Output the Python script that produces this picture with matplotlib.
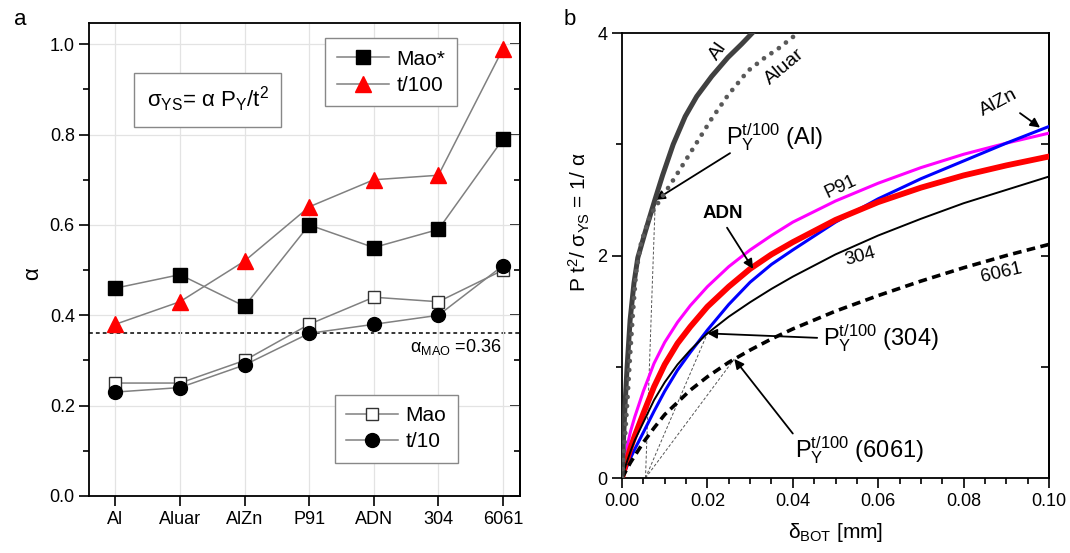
import numpy as np
import matplotlib
matplotlib.use("Agg")
from matplotlib import pyplot as plt
from matplotlib.ticker import MultipleLocator

plt.rcParams['font.family'] = ['Liberation Sans', 'DejaVu Sans']
plt.rcParams['mathtext.fontset'] = 'custom'
plt.rcParams['mathtext.rm'] = 'Liberation Sans'
plt.rcParams['mathtext.it'] = 'Liberation Sans:italic'
plt.rcParams['mathtext.bf'] = 'Liberation Sans:bold'

# ---- panel a data ----
materials = ["Al", "Aluar", "AlZn", "P91", "ADN", "304", "6061"]
alpha_mao_star = [0.46, 0.49, 0.42, 0.60, 0.55, 0.59, 0.79]
alpha_t100 = [0.38, 0.43, 0.52, 0.64, 0.70, 0.71, 0.99]
alpha_mao = [0.25, 0.25, 0.30, 0.38, 0.44, 0.43, 0.50]
alpha_t10 = [0.23, 0.24, 0.29, 0.36, 0.38, 0.40, 0.51]
alpha_mao_ref = 0.36

# ---- panel b data (delta_BOT [mm], P t^2 / sigma_YS) ----
al_x = [0, 0.0003, 0.0007, 0.0012, 0.0019, 0.0028, 0.0037, 0.0055, 0.0077, 0.0095,
        0.0120, 0.0148, 0.0175, 0.0210, 0.0248, 0.0280, 0.0310]
al_y = [0, 0.30, 0.65, 1.00, 1.42, 1.75, 1.98, 2.22, 2.50, 2.72,
        3.00, 3.25, 3.43, 3.61, 3.78, 3.90, 4.02]
aluar_x = [0, 0.0004, 0.0008, 0.0013, 0.0019, 0.0025, 0.0033, 0.0045, 0.0065, 0.0089,
           0.0112, 0.0140, 0.0171, 0.0210, 0.0248, 0.0295, 0.0335, 0.0366, 0.0412]
aluar_y = [0, 0.20, 0.42, 0.72, 1.10, 1.45, 1.85, 2.12, 2.35, 2.50,
           2.63, 2.80, 2.99, 3.23, 3.44, 3.66, 3.78, 3.86, 4.00]
dx = [0, 0.001, 0.002, 0.003, 0.005, 0.0075, 0.010, 0.013, 0.016, 0.020,
      0.025, 0.030, 0.035, 0.040, 0.050, 0.060, 0.070, 0.080, 0.090, 0.100]
p91_y = [0, 0.25, 0.42, 0.55, 0.78, 1.03, 1.22, 1.40, 1.55, 1.72,
         1.90, 2.05, 2.18, 2.30, 2.49, 2.65, 2.79, 2.91, 3.01, 3.10]
adn_y = [0, 0.14, 0.27, 0.38, 0.58, 0.82, 1.02, 1.21, 1.36, 1.54,
         1.72, 1.88, 2.01, 2.12, 2.32, 2.48, 2.61, 2.72, 2.81, 2.89]
alzn_y = [0, 0.09, 0.18, 0.26, 0.41, 0.60, 0.78, 0.97, 1.13, 1.33,
          1.56, 1.76, 1.92, 2.05, 2.30, 2.51, 2.69, 2.85, 3.01, 3.16]
s304_y = [0, 0.13, 0.24, 0.34, 0.50, 0.70, 0.86, 1.02, 1.15, 1.30,
          1.45, 1.58, 1.70, 1.81, 2.01, 2.18, 2.33, 2.47, 2.59, 2.71]
a6061_y = [0, 0.07, 0.14, 0.20, 0.32, 0.45, 0.57, 0.68, 0.79, 0.91,
           1.04, 1.15, 1.25, 1.34, 1.50, 1.64, 1.77, 1.89, 2.00, 2.10]

# t/100 offset lines: start on the axis, end at the P_Y point
offset_start = 0.0055
py_al = (0.0078, 2.50)
py_304 = (0.0200, 1.30)
py_6061 = (0.0263, 1.07)

fig = plt.figure(figsize=(10.7, 5.53), dpi=100)
ax1 = fig.add_axes([0.0836, 0.1031, 0.4028, 0.8553])
ax2 = fig.add_axes([0.5813, 0.1356, 0.3991, 0.8047])

# ================= panel a =================
xi = np.arange(len(materials))
ax1.grid(True, color="#e3e3e3", lw=0.9, zorder=0)
ax1.axhline(alpha_mao_ref, color="black", ls=(0, (2.5, 2)), lw=1.1, zorder=1)
line_kw = dict(color="#808080", lw=1.1, zorder=3)
h1, = ax1.plot(xi, alpha_mao_star, marker="s", ms=10, mfc="black", mec="black", label="Mao*", **line_kw)
h2, = ax1.plot(xi, alpha_t100, marker="^", ms=11, mfc="red", mec="red", label="t/100", **line_kw)
h3, = ax1.plot(xi, alpha_mao, marker="s", ms=9, mfc="white", mec="#333333", mew=1.0, label="Mao", **line_kw)
h4, = ax1.plot(xi, alpha_t10, marker="o", ms=10, mfc="black", mec="black", label="t/10", **line_kw)

ax1.set_xlim(-0.4, 6.27)
ax1.set_ylim(0, 1.047)
ax1.set_xticks(xi)
ax1.set_xticklabels(materials, fontsize=13)
ax1.yaxis.set_minor_locator(MultipleLocator(0.1))
ax1.set_yticks([0.0, 0.2, 0.4, 0.6, 0.8, 1.0])
ax1.set_yticklabels(["0.0", "0.2", "0.4", "0.6", "0.8", "1.0"], fontsize=13)
ax1.tick_params(axis="both", which="major", direction="out", length=7, width=1.2, right=False, top=False)
ax1.tick_params(axis="y", which="minor", direction="out", length=4, width=1.2)
ax1.tick_params(axis="x", which="minor", bottom=False)
ax1r = ax1.secondary_yaxis("right")
ax1r.yaxis.set_major_locator(MultipleLocator(0.2))
ax1r.yaxis.set_minor_locator(MultipleLocator(0.1))
ax1r.tick_params(which="major", direction="in", length=7, width=1.2, labelright=False)
ax1r.tick_params(which="minor", direction="in", length=4, width=1.2)
for s in ax1.spines.values():
    s.set_linewidth(1.3)
ax1r.spines["right"].set_linewidth(1.3)
ax1.set_ylabel("α", fontsize=16)
ax1.yaxis.set_label_coords(-0.108, 0.47)

leg_kw = dict(fontsize=15, fancybox=False, edgecolor="#888888", framealpha=1,
              handlelength=2.5, borderpad=0.55, handletextpad=0.35, labelspacing=0.35,
              borderaxespad=0)
leg1 = ax1.legend(handles=[h1, h2], loc="upper right", bbox_to_anchor=(0.852, 0.968), **leg_kw)
leg1.get_frame().set_linewidth(1.0)
ax1.add_artist(leg1)
leg2 = ax1.legend(handles=[h3, h4], loc="lower right", bbox_to_anchor=(0.855, 0.07), **leg_kw)
leg2.get_frame().set_linewidth(1.0)

ax1.text(0.274, 0.838, "σ$_{\\rm YS}$= α P$_{\\rm Y}$/t$^{\\rm 2}$", transform=ax1.transAxes,
         fontsize=16, ha="center", va="center",
         bbox=dict(boxstyle="square,pad=0.55", fc="white", ec="#888888", lw=1.0))
ax1.text(5.98, 0.352, "α$_{\\rm MAO}$ =0.36", fontsize=13, ha="right", va="top")

# ================= panel b =================
ax2.plot(al_x, al_y, color="#404040", lw=3.6, zorder=4, solid_capstyle="round")
ax2.plot(aluar_x, aluar_y, color="#595959", lw=3.4, ls=(0, (0.01, 1.9)),
         dash_capstyle="round", zorder=4)
ax2.plot(dx, p91_y, color="#ff00ff", lw=2.2, zorder=3)
ax2.plot(dx, alzn_y, color="#0000ff", lw=2.2, zorder=3)
ax2.plot(dx, adn_y, color="#ff0000", lw=4.2, zorder=3)
ax2.plot(dx, s304_y, color="black", lw=1.4, zorder=3)
ax2.plot(dx, a6061_y, color="black", lw=2.6, ls=(0, (2.4, 1.5)), zorder=3)

for px, py in (py_al, py_304, py_6061):
    ax2.plot([offset_start, px], [0, py], color="#555555", lw=0.7, ls=(0, (3, 2)), zorder=2)

ax2.set_xlim(0, 0.1)
ax2.set_ylim(0, 4)
ax2.set_xticks([0.0, 0.02, 0.04, 0.06, 0.08, 0.10])
ax2.set_xticklabels(["0.00", "0.02", "0.04", "0.06", "0.08", "0.10"], fontsize=13)
ax2.xaxis.set_minor_locator(MultipleLocator(0.005))
ax2.set_yticks([0, 2, 4])
ax2.set_yticklabels(["0", "2", "4"], fontsize=13)
ax2.yaxis.set_minor_locator(MultipleLocator(1))
ax2.tick_params(which="major", direction="out", length=7, width=1.2, top=False, right=False)
ax2.tick_params(which="minor", direction="out", length=4, width=1.2, top=False, right=False)
ax2r = ax2.secondary_yaxis("right")
ax2r.set_yticks([1, 2, 3])
ax2r.tick_params(which="major", direction="in", length=6, width=1.2, labelright=False)
for s in ax2.spines.values():
    s.set_linewidth(1.3)
ax2r.spines["right"].set_linewidth(1.3)
ax2.set_xlabel("δ$_{\\rm BOT}$ [mm]", fontsize=15, labelpad=8)
ax2.set_ylabel("P t$^{\\rm 2}$/ σ$_{\\rm YS}$ = 1/ α", fontsize=15)
ax2.yaxis.set_label_coords(-0.071, 0.575)

# curve labels
ax2.text(0.0225, 3.84, "Al", fontsize=14, rotation=55, ha="center", va="center")
ax2.text(0.0382, 3.70, "Aluar", fontsize=14, rotation=40, ha="center", va="center")
ax2.text(0.0882, 3.37, "AlZn", fontsize=14, rotation=28, ha="center", va="center")
ax2.text(0.0511, 2.62, "P91", fontsize=13.5, rotation=25, ha="center", va="center")
ax2.text(0.0237, 2.38, "ADN", fontsize=13.5, fontweight="bold", ha="center", va="center")
ax2.text(0.0557, 1.99, "304", fontsize=13.5, rotation=15, ha="center", va="center")
ax2.text(0.0889, 1.84, "6061", fontsize=13.5, rotation=13, ha="center", va="center")

arrow_kw = dict(arrowstyle="-|>", color="black", lw=1.3, mutation_scale=14, shrinkA=0, shrinkB=0)
ax2.annotate("", xy=(0.0979, 3.15), xytext=(0.0932, 3.28), arrowprops=arrow_kw)
ax2.annotate("", xy=py_al, xytext=(0.0253, 2.92), arrowprops=arrow_kw)
ax2.annotate("", xy=(0.0307, 1.88), xytext=(0.0246, 2.25), arrowprops=arrow_kw)
ax2.annotate("", xy=py_304, xytext=(0.0457, 1.26), arrowprops=arrow_kw)
ax2.annotate("", xy=py_6061, xytext=(0.0400, 0.40), arrowprops=arrow_kw)

py_label = "P$_{\\rm Y}^{\\rm t/100}$"
ax2.text(0.0358, 3.06, py_label + " (Al)", fontsize=17, ha="center", va="center")
ax2.text(0.0471, 1.26, py_label + " (304)", fontsize=17, ha="left", va="center")
ax2.text(0.0405, 0.25, py_label + " (6061)", fontsize=17, ha="left", va="center")

fig.text(0.013, 0.965, "a", fontsize=16, ha="left", va="center")
fig.text(0.527, 0.965, "b", fontsize=16, ha="left", va="center")

fig.savefig("out.png", dpi=100)
